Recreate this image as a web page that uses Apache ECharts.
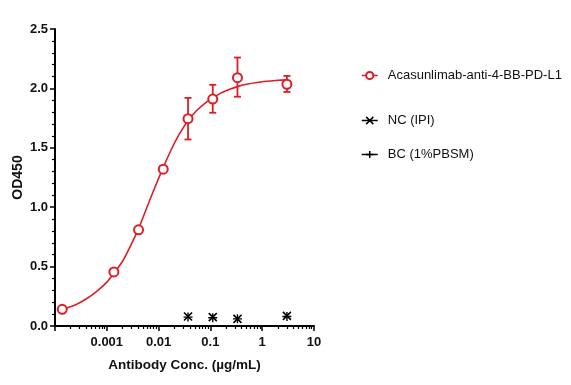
<!DOCTYPE html>
<html><head><meta charset="utf-8">
<script src="https://cdn.jsdelivr.net/npm/echarts@6/dist/echarts.min.js"></script>
<style>html,body{margin:0;padding:0;background:#fff}#c{width:571px;height:385px}</style>
</head><body><div id="c"></div>
<script>
// ---- data ----
const concs = [0.000138, 0.00137, 0.0041, 0.0123, 0.037, 0.111, 0.333, 3];
const od = [0.14, 0.455, 0.81, 1.32, 1.745, 1.91, 2.09, 2.035];
const errLow = [null, null, null, null, 1.57, 1.795, 1.93, 1.97];
const errHigh = [null, null, null, null, 1.92, 2.03, 2.26, 2.105];
const fitX = [0.000138, 0.000251, 0.000398, 0.000631, 0.001, 0.00138, 0.002, 0.00282, 0.00407, 0.00562, 0.00794,
              0.0123, 0.0178, 0.0251, 0.0372, 0.0562, 0.0794, 0.112, 0.158, 0.229, 0.331, 0.501, 0.794, 1.26, 2.0, 3.0];
const fitY = [0.14, 0.179, 0.227, 0.289, 0.369, 0.447, 0.543, 0.668, 0.815, 0.97, 1.136,
              1.335, 1.49, 1.615, 1.73, 1.82, 1.877, 1.92, 1.96, 1.99, 2.015, 2.035, 2.05, 2.06, 2.068, 2.072];
const ncX = [0.037, 0.111, 0.333, 3];
const ncY = [0.08, 0.075, 0.06, 0.085];
const bcX = [0.037, 0.111, 0.333, 3];
const bcY = [0.075, 0.07, 0.06, 0.08];
const xTickLabels = [0.001, 0.01, 0.1, 1, 10];
const yTicks = [0, 0.5, 1.0, 1.5, 2.0, 2.5];
const nameA = 'Acasunlimab-anti-4-BB-PD-L1';
const nameNC = 'NC (IPI)';
const nameBC = 'BC (1%PBSM)';

const RED = '#dc1f26';
const FONT = '"Liberation Sans", Arial, sans-serif';
const minorTicks = [];
for (let d = -4; d <= 0; d++) for (let k = 2; k <= 9; k++) minorTicks.push(+(k * Math.pow(10, d)).toPrecision(3));

const chart = echarts.init(document.getElementById('c'), null, {renderer: 'canvas'});
const axisLine = {show: true, lineStyle: {color: '#000', width: 2}};
chart.setOption({
  animation: false,
  backgroundColor: '#fff',
  textStyle: {fontFamily: FONT},
  grid: {left: 55, top: 29, right: 257, bottom: 59, containLabel: false},
  legend: [
    {data: [nameA], left: 356, top: 64, itemWidth: 16, itemHeight: 9,
     textStyle: {fontFamily: FONT, fontSize: 13, color: '#111', padding: [0, 0, 0, 5]},
     lineStyle: {opacity: 1, width: 1.5}, itemStyle: {borderWidth: 1.5}},
    {data: [nameNC, nameBC], orient: 'vertical', left: 356, top: 109, itemGap: 21, itemWidth: 16, itemHeight: 9,
     textStyle: {fontFamily: FONT, fontSize: 13, color: '#111', padding: [0, 0, 0, 5]},
     lineStyle: {opacity: 1, width: 1.5}, itemStyle: {borderWidth: 1.5}}
  ],
  xAxis: [
    {type: 'log', min: 0.0001, max: 10, logBase: 10,
     name: 'Antibody Conc. (µg/mL)', nameLocation: 'middle', nameGap: 32,
     nameTextStyle: {fontFamily: FONT, fontSize: 13.5, fontWeight: 'bold', color: '#111'},
     axisLine: axisLine,
     axisTick: {show: true, inside: false, length: 5, lineStyle: {color: '#000', width: 1.5}},
     axisLabel: {margin: 10, fontFamily: FONT, fontSize: 13, fontWeight: 'bold', color: '#111',
       formatter: v => {
         for (const t of xTickLabels) if (Math.abs(Math.log10(v) - Math.log10(t)) < 0.01) return String(t);
         return '';
       }},
     splitLine: {show: false}, minorTick: {show: false}},
    {type: 'log', min: 0.0001, max: 10, logBase: 10, position: 'bottom',
     axisLine: {show: false},
     axisTick: {show: true, length: 3, customValues: minorTicks, lineStyle: {color: '#000', width: 1.2}},
     axisLabel: {show: false}, splitLine: {show: false}}
  ],
  yAxis: {type: 'value', min: 0, max: 2.5, interval: 0.5,
    name: 'OD450', nameLocation: 'middle', nameGap: 30,
    nameTextStyle: {fontFamily: FONT, fontSize: 14, fontWeight: 'bold', color: '#111'},
    axisLine: axisLine,
    axisTick: {show: true, length: 5, lineStyle: {color: '#000', width: 1.5}},
    minorTick: {show: true, splitNumber: 5, length: 3, lineStyle: {color: '#000', width: 1.2}},
    axisLabel: {margin: 7, fontFamily: FONT, fontSize: 13, fontWeight: 'bold', color: '#111',
      formatter: v => v.toFixed(1)},
    splitLine: {show: false}, minorSplitLine: {show: false}},
  series: [
    {name: 'fit', type: 'line', smooth: 0.3, symbol: 'none', z: 2,
     data: fitX.map((x, i) => [x, fitY[i]]),
     lineStyle: {color: RED, width: 1.6}, itemStyle: {color: RED}},
    {name: 'err', type: 'custom', z: 3,
     data: concs.map((x, i) => [x, errLow[i], errHigh[i]]).filter(d => d[1] != null),
     renderItem: (params, api) => {
       const x = api.value(0);
       const pH = api.coord([x, api.value(2)]);
       const pL = api.coord([x, api.value(1)]);
       const w = 3.5, st = {stroke: RED, lineWidth: 1.8};
       return {type: 'group', children: [
         {type: 'line', shape: {x1: pH[0], y1: pH[1], x2: pL[0], y2: pL[1]}, style: st},
         {type: 'line', shape: {x1: pH[0] - w, y1: pH[1], x2: pH[0] + w, y2: pH[1]}, style: st},
         {type: 'line', shape: {x1: pL[0] - w, y1: pL[1], x2: pL[0] + w, y2: pL[1]}, style: st}
       ]};
     }},
    {name: nameA, type: 'line', z: 5, symbol: 'emptyCircle', symbolSize: 9,
     data: concs.map((x, i) => [x, od[i]]),
     lineStyle: {color: RED, width: 1.5, opacity: 0},
     itemStyle: {color: RED, borderWidth: 1.5}},
    {name: nameNC, type: 'line', z: 5, symbol: 'path://M0,0L10,10M10,0L0,10', symbolSize: 8,
     data: ncX.map((x, i) => [x, ncY[i]]),
     lineStyle: {color: '#000', width: 1.5, opacity: 0},
     itemStyle: {color: 'rgba(0,0,0,0)', borderColor: '#000', borderWidth: 1.6}},
    {name: nameBC, type: 'line', z: 5, symbol: 'path://M5,0L5,10M0,5L10,5', symbolSize: 9,
     data: bcX.map((x, i) => [x, bcY[i]]),
     lineStyle: {color: '#000', width: 1.5, opacity: 0},
     itemStyle: {color: 'rgba(0,0,0,0)', borderColor: '#000', borderWidth: 1.4}}
  ]
});
</script></body></html>
